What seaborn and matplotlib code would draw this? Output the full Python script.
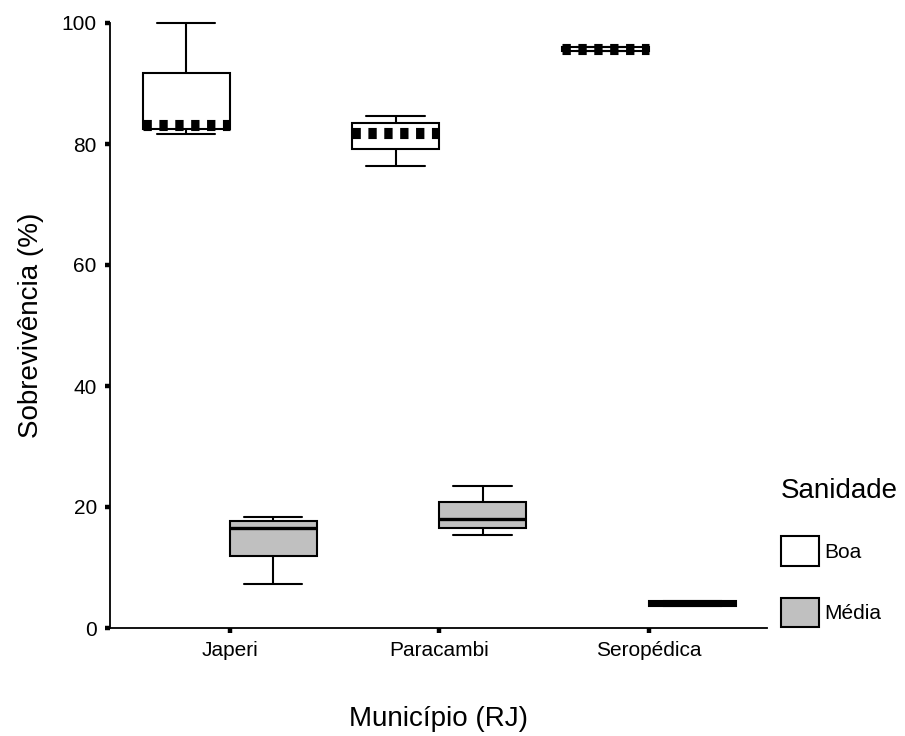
import numpy as np
import pandas as pd
import seaborn as sns
import matplotlib
matplotlib.use("Agg")
import matplotlib.pyplot as plt
from matplotlib.patches import Patch

# ---- data (five-number summaries: min, q1, median, q3, max)
municipios = ["Japeri", "Paracambi", "Seropédica"]
sanidade = ["Boa", "Média"]
boa_japeri = [81.7, 82.4, 83.2, 91.7, 100.0]
boa_paracambi = [76.4, 79.1, 81.9, 83.4, 84.7]
boa_seropedica = [95.4, 95.4, 95.7, 96.1, 96.1]
media_japeri = [7.3, 11.9, 16.6, 17.7, 18.3]
media_paracambi = [15.3, 16.6, 18.0, 20.9, 23.5]
media_seropedica = [3.6, 3.6, 4.05, 4.5, 4.5]
y_ticks = [0, 20, 40, 60, 80, 100]
colors = {"Boa": "#ffffff", "Média": "#c0c0c0"}

groups = {
    ("Japeri", "Boa"): boa_japeri,
    ("Paracambi", "Boa"): boa_paracambi,
    ("Seropédica", "Boa"): boa_seropedica,
    ("Japeri", "Média"): media_japeri,
    ("Paracambi", "Média"): media_paracambi,
    ("Seropédica", "Média"): media_seropedica,
}
rows = []
for (m, s), vals in groups.items():
    for v in vals:
        rows.append({"Município": m, "Sanidade": s, "Sobrevivência": v})
df = pd.DataFrame(rows)

sns.set_theme(style="ticks")
plt.rcParams["font.family"] = ["Liberation Sans", "DejaVu Sans"]
plt.rcParams["text.color"] = "black"
plt.rcParams["axes.labelcolor"] = "black"

fig = plt.figure(figsize=(9.05, 7.36), dpi=100)
ax = fig.add_axes([110 / 905, 1 - 628 / 736, 657 / 905, 605 / 736])

sns.boxplot(
    data=df, x="Município", y="Sobrevivência", hue="Sanidade",
    order=municipios, hue_order=sanidade, palette=colors,
    width=0.83, gap=0, dodge=True, whis=(0, 100), showfliers=False,
    linecolor="black", linewidth=1.5, capwidths=0.28,
    medianprops=dict(color="black", linewidth=2.4),
    legend=False, ax=ax,
)

# dotted thick medians for "Boa"
for c in ax.containers:
    meds = getattr(c, "medians", [])
    for med in meds:
        if np.mean(med.get_ydata()) > 50:
            med.set_linewidth(8)
            med.set_linestyle((0, (0.75, 0.68)))
            med.set_dash_capstyle("butt")
for art in ax.lines + ax.patches:
    art.set_clip_on(False)

ax.set_ylim(0, 100)
ax.set_xlim(-0.570, 2.563)
ax.set_yticks(y_ticks)
sns.despine(ax=ax)
for sp in ("left", "bottom"):
    ax.spines[sp].set_linewidth(1.3)
    ax.spines[sp].set_color("black")
ax.tick_params(axis="both", length=3.5, width=3.2, color="black",
               labelsize=15, labelcolor="black", pad=6)

ax.set_xlabel("Município (RJ)", fontsize=20, labelpad=33, color="black")
ax.set_ylabel("Sobrevivência (%)", fontsize=20, labelpad=13, color="black")

handles = [Patch(facecolor=colors[s], edgecolor="black", linewidth=1.5, label=s)
           for s in sanidade]
leg = fig.legend(
    handles=handles, title="Sanidade", loc="upper left",
    bbox_to_anchor=(781 / 905, 1 - 478 / 736), bbox_transform=fig.transFigure,
    frameon=False, fontsize=15, title_fontsize=20, borderpad=0,
    borderaxespad=0, handlelength=1.83, handleheight=1.78,
    handletextpad=0.25, labelspacing=1.55, alignment="left",
)
leg.get_title().set_color("black")
for t in leg.get_texts():
    t.set_color("black")

fig.savefig("out.png", dpi=100)
